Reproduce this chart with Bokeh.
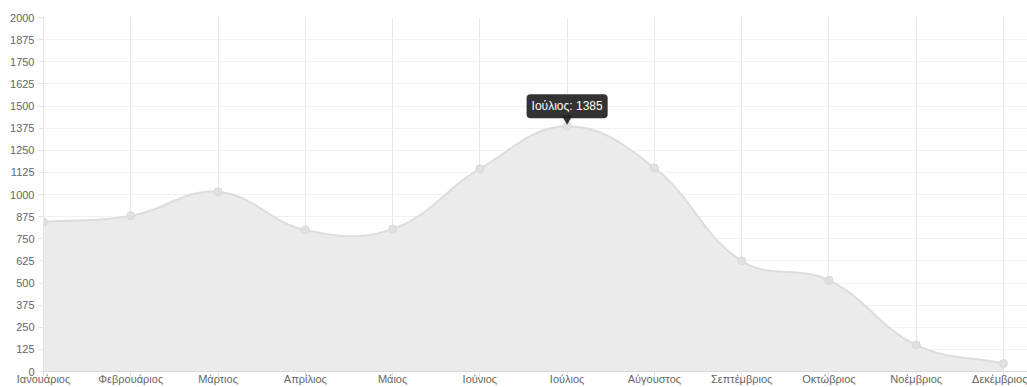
import numpy as np
from bokeh.plotting import figure
from bokeh.models import Range1d, FixedTicker, Label
from bokeh.embed import file_html
from bokeh.resources import INLINE

months = ["Ιανουάριος", "Φεβρουάριος", "Μάρτιος", "Απρίλιος", "Μάιος", "Ιούνιος",
          "Ιούλιος", "Αύγουστος", "Σεπτέμβριος", "Οκτώβριος", "Νοέμβριος", "Δεκέμβριος"]
sales = [845, 880, 1015, 800, 805, 1145, 1385, 1150, 625, 515, 150, 45]
y_ticks = [0, 125, 250, 375, 500, 625, 750, 875, 1000, 1125, 1250, 1375,
           1500, 1625, 1750, 1875, 2000]
tip_index = 6

W, H = 1027, 387
LEFT, TOP, BOTTOM = 43, 17, 16
frame_w = W - LEFT
frame_h = H - TOP - BOTTOM
n = len(months)
x_end = (n - 1) * frame_w / 960.0
px_x = frame_w / x_end
px_y = frame_h / 2000.0

# Chart.js-like bezier smoothing (tension 0.4), computed in pixel space
xs = np.arange(n, dtype=float)
ys = np.array(sales, dtype=float)
P = np.column_stack([xs * px_x, ys * px_y])
t = 0.4
cp_prev = np.zeros_like(P)
cp_next = np.zeros_like(P)
for i in range(n):
    prev = P[i - 1] if i > 0 else P[i]
    nxt = P[i + 1] if i < n - 1 else P[i]
    d01 = np.hypot(*(P[i] - prev))
    d12 = np.hypot(*(nxt - P[i]))
    tot = d01 + d12
    s01 = d01 / tot if tot else 0
    s12 = d12 / tot if tot else 0
    cp_prev[i] = P[i] - t * s01 * (nxt - prev)
    cp_next[i] = P[i] + t * s12 * (nxt - prev)
cp_prev[:, 1] = np.clip(cp_prev[:, 1], 0, frame_h)
cp_next[:, 1] = np.clip(cp_next[:, 1], 0, frame_h)

u = np.linspace(0, 1, 40)[:, None]
seg = []
for i in range(n - 1):
    a, b, c, d = P[i], cp_next[i], cp_prev[i + 1], P[i + 1]
    pts = ((1 - u) ** 3) * a + 3 * ((1 - u) ** 2) * u * b + 3 * (1 - u) * u ** 2 * c + u ** 3 * d
    seg.append(pts if i == 0 else pts[1:])
curve = np.vstack(seg)
cx = curve[:, 0] / px_x
cy = curve[:, 1] / px_y

p = figure(width=W, height=H, output_backend="svg", toolbar_location=None,
           x_range=Range1d(0, x_end), y_range=Range1d(0, 2000),
           min_border_left=LEFT, min_border_right=0, min_border_top=TOP,
           min_border_bottom=BOTTOM)
p.outline_line_color = None
p.background_fill_color = "white"
p.border_fill_color = "white"

p.xgrid.ticker = FixedTicker(ticks=list(range(n)))
p.xgrid.grid_line_color = "#e8e8e8"
p.ygrid.ticker = FixedTicker(ticks=y_ticks)
p.ygrid.grid_line_color = "#f1f1f1"

p.xaxis.ticker = FixedTicker(ticks=list(range(n)))
p.xaxis.major_label_overrides = {i: m for i, m in enumerate(months)}
p.yaxis.ticker = FixedTicker(ticks=y_ticks)
for ax in (p.xaxis, p.yaxis):
    ax.major_label_text_font = "Liberation Sans"
    ax.major_label_text_font_size = "11px"
    ax.major_label_text_color = "#666666"
    ax.minor_tick_line_color = None
    ax.major_tick_in = 0
    ax.major_tick_out = 5
    ax.major_tick_line_color = "#e3e3e3"
p.xaxis.axis_line_color = "#d8d8d8"
p.yaxis.axis_line_color = "#e3e3e3"
p.xaxis.major_label_standoff = -4
p.yaxis.major_label_standoff = 4

p.varea(x=cx, y1=0, y2=cy, fill_color="#ebebeb", fill_alpha=1.0)
p.line(cx, cy, line_color="#dcdcdc", line_width=2)
p.scatter(xs, ys, size=8, fill_color="#e0e0e0", line_color="#d9d9d9", line_width=1)

# tooltip
caret_y = sales[tip_index] + 8 / px_y
p.scatter([tip_index], [caret_y], marker="inverted_triangle", size=11,
          fill_color="#222222", line_color=None, fill_alpha=0.92)
tip = Label(x=tip_index, y=sales[tip_index], y_offset=20, text=f"{months[tip_index]}: {sales[tip_index]}",
            text_align="center", text_baseline="middle", text_color="white",
            text_font="Liberation Sans", text_font_size="12px",
            background_fill_color="#222222", background_fill_alpha=0.92,
            padding=5, border_radius=4)
p.add_layout(tip)

open("out.html", "w").write(file_html(p, INLINE))
